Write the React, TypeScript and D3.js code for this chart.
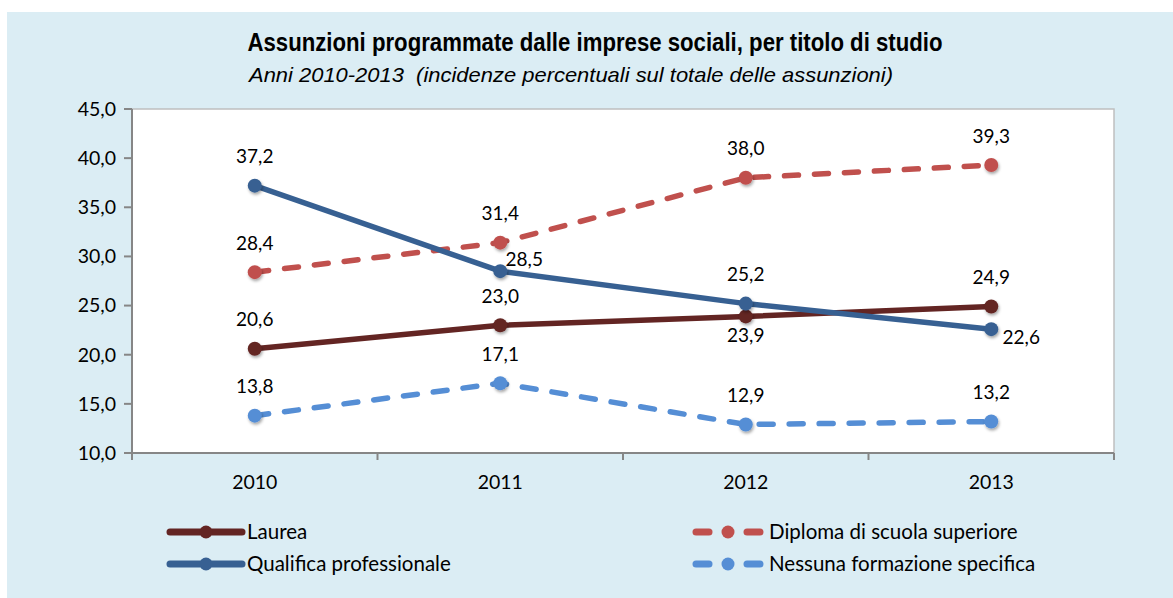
import React from 'react';
import * as d3 from 'd3';

// data
const years = ['2010', '2011', '2012', '2013'];
const laurea = [20.6, 23.0, 23.9, 24.9];
const diploma = [28.4, 31.4, 38.0, 39.3];
const qualifica = [37.2, 28.5, 25.2, 22.6];
const nessuna = [13.8, 17.1, 12.9, 13.2];
const yTicks = [10, 15, 20, 25, 30, 35, 40, 45];

const title = 'Assunzioni programmate dalle imprese sociali, per titolo di studio';
const subtitle = 'Anni 2010-2013  (incidenze percentuali sul totale delle assunzioni)';

// label placement per point: 'a' above, 'b' below, 'r' up-right, 'br' down-right
const series = [
  { name: 'Laurea', values: laurea, color: '#632523', dashed: false, pos: ['a', 'a', 'b', 'a'] },
  { name: 'Diploma di scuola superiore', values: diploma, color: '#C0504D', dashed: true, pos: ['a', 'a', 'a', 'a'] },
  { name: 'Qualifica professionale', values: qualifica, color: '#376092', dashed: false, pos: ['a', 'r', 'a', 'br'] },
  { name: 'Nessuna formazione specifica', values: nessuna, color: '#558ED5', dashed: true, pos: ['a', 'a', 'a', 'a'] },
];

const W = 1173;
const H = 598;
const font = 'Lato, "Open Sans", sans-serif';
const narrow = '"Liberation Sans Narrow", "Arial Narrow", "Liberation Sans", sans-serif';
const fmt = (v: number) => v.toFixed(1).replace('.', ',');

export default function App() {
  const left = 132, right = 1114, top = 109, bottom = 453;

  const x = d3.scaleBand().domain(years).range([left, right]).paddingInner(0).paddingOuter(0);
  const y = d3.scaleLinear().domain([10, 45]).range([bottom, top]);
  const cx = (yr: string) => (x(yr) as number) + x.bandwidth() / 2;

  const line = d3
    .line<number>()
    .x((d, i) => cx(years[i]))
    .y((d) => y(d));

  const bounds = years.map((yr) => x(yr) as number).concat([right]);

  const labelOffset = (p: string) => {
    if (p === 'b') return [0, 19];
    if (p === 'r') return [24, -12];
    if (p === 'br') return [30, 8];
    return [0, -29];
  };

  // legend rows
  const legend = [
    { s: series[0], lx: 170, ly: 532 },
    { s: series[2], lx: 170, ly: 564 },
    { s: series[1], lx: 692, ly: 532 },
    { s: series[3], lx: 692, ly: 564 },
  ];

  return (
    <svg width={W} height={H} style={{ position: 'absolute', left: 0, top: 0 }}>
      <defs>
        <filter id="shadow" x="-50%" y="-50%" width="200%" height="200%">
          <feDropShadow dx="1" dy="2" stdDeviation="1.5" floodColor="#000" floodOpacity="0.35" />
        </filter>
      </defs>
      <rect x={7} y={12} width={W - 7} height={H - 12} fill="#DBEDF4" />

      <text
        x={595}
        y={51}
        textAnchor="middle"
        fontFamily={narrow}
        fontWeight="bold"
        fontSize={25}
        textLength={695}
        lengthAdjust="spacingAndGlyphs"
      >
        {title}
      </text>
      <text
        x={571}
        y={82}
        textAnchor="middle"
        fontFamily={narrow}
        fontStyle="italic"
        fontSize={21}
        textLength={644}
        lengthAdjust="spacingAndGlyphs"
        style={{ whiteSpace: 'pre' }}
      >
        {subtitle}
      </text>

      {/* plot area */}
      <rect x={left} y={top} width={right - left} height={bottom - top} fill="#fff" stroke="#BFBFBF" strokeWidth={1.5} />
      <line x1={left} x2={left} y1={top} y2={bottom} stroke="#868686" strokeWidth={2} />
      <line x1={left} x2={right} y1={bottom} y2={bottom} stroke="#868686" strokeWidth={2} />

      {yTicks.map((t) => (
        <g key={t}>
          <line x1={left - 8} x2={left} y1={y(t)} y2={y(t)} stroke="#868686" strokeWidth={2} />
          <text x={left - 16} y={y(t)} dy="0.35em" textAnchor="end" fontFamily={font} fontSize={19.5}>
            {fmt(t)}
          </text>
        </g>
      ))}
      {bounds.map((b, i) => (
        <line key={i} x1={b} x2={b} y1={bottom} y2={bottom + 7} stroke="#868686" strokeWidth={2} />
      ))}
      {years.map((yr) => (
        <text key={yr} x={cx(yr)} y={482} dy="0.35em" textAnchor="middle" fontFamily={font} fontSize={19.5}>
          {yr}
        </text>
      ))}

      {series.map((s) => (
        <g key={s.name}>
          <path
            d={line(s.values) as string}
            fill="none"
            stroke={s.color}
            strokeWidth={5.5}
            strokeLinecap="round"
            strokeLinejoin="round"
            strokeDasharray={s.dashed ? '14 16' : undefined}
          />
          {s.values.map((v, i) => (
            <circle key={i} cx={cx(years[i])} cy={y(v)} r={7} fill={s.color} filter="url(#shadow)" />
          ))}
        </g>
      ))}

      {series.map((s) =>
        s.values.map((v, i) => {
          const [dx, dy] = labelOffset(s.pos[i]);
          return (
            <text
              key={s.name + i}
              x={cx(years[i]) + dx}
              y={y(v) + dy}
              dy="0.35em"
              textAnchor="middle"
              fontFamily={font}
              fontSize={19}
            >
              {fmt(v)}
            </text>
          );
        })
      )}

      {legend.map(({ s, lx, ly }) => (
        <g key={s.name}>
          {s.dashed ? (
            <>
              <line x1={lx + 4} x2={lx + 17} y1={ly} y2={ly} stroke={s.color} strokeWidth={7} strokeLinecap="round" />
              <line x1={lx + 55} x2={lx + 68} y1={ly} y2={ly} stroke={s.color} strokeWidth={7} strokeLinecap="round" />
            </>
          ) : (
            <line x1={lx} x2={lx + 72} y1={ly} y2={ly} stroke={s.color} strokeWidth={7} strokeLinecap="round" />
          )}
          <circle cx={lx + 36} cy={ly} r={6.5} fill={s.color} />
          <text x={lx + 77} y={ly} dy="0.35em" fontFamily={font} fontSize={20.5}>
            {s.name}
          </text>
        </g>
      ))}
    </svg>
  );
}
